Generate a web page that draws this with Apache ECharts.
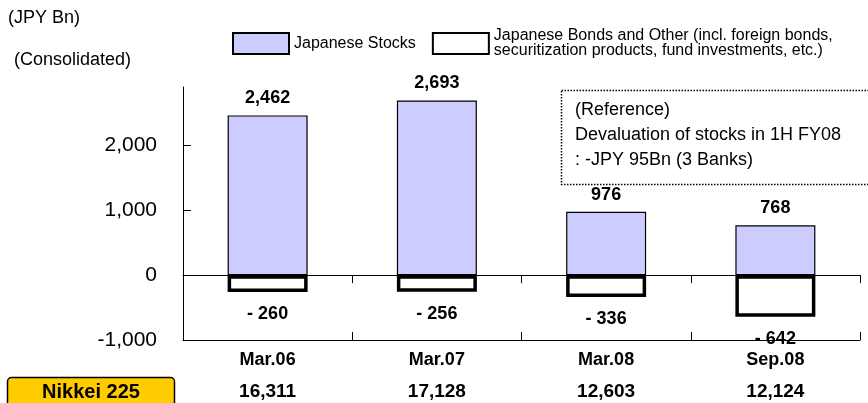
<!DOCTYPE html>
<html>
<head>
<meta charset="utf-8">
<title>Japanese Stocks / Bonds</title>
<script src="https://cdn.jsdelivr.net/npm/echarts@6/dist/echarts.min.js"></script>
<style>
  html, body { margin: 0; padding: 0; background: #fff; }
  #chart { width: 868px; height: 403px; }
</style>
</head>
<body>
<div id="chart"></div>
<script>
// data
const categories = ["Mar.06", "Mar.07", "Mar.08", "Sep.08"];
const stocks = [2462, 2693, 976, 768];
const bonds = [-260, -256, -336, -642];
const nikkei = ["16,311", "17,128", "12,603", "12,124"];
const yTicks = [-1000, 0, 1000, 2000];

const stocksName = "Japanese Stocks";
const bondsName = "Japanese Bonds and Other (incl. foreign bonds, securitization products, fund investments, etc.)";

const font = "'Liberation Sans', Arial, sans-serif";

function init() {
  const chart = echarts.init(document.getElementById("chart"));
  const option = {
    animation: false,
    textStyle: { fontFamily: font, color: "#000" },
    grid: { left: 183, right: 8, top: 87, bottom: 63 },
    legend: {
      left: 232,
      top: 28,
      padding: 0,
      icon: "rect",
      itemWidth: 56,
      itemHeight: 21,
      itemGap: 16,
      selectedMode: false,
      data: [stocksName, bondsName],
      textStyle: { fontSize: 16, lineHeight: 15, color: "#000", fontFamily: font },
      formatter: function (name) {
        return name.replace(", securitization", ",\nsecuritization");
      },
    },
    xAxis: [
      {
        type: "category",
        data: categories,
        axisLine: { onZero: true, lineStyle: { color: "#000", width: 1 } },
        axisTick: { show: true, length: 8, lineStyle: { color: "#000" } },
        axisLabel: { show: false },
      },
      {
        // same axis again, ticks pointing up so they cross the line
        type: "category",
        position: "bottom",
        data: categories,
        axisLine: { onZero: true, lineStyle: { color: "#000", width: 1 } },
        axisTick: { show: true, inside: true, length: 8, lineStyle: { color: "#000" } },
        axisLabel: { show: false },
      },
      {
        // labels under the plot: period + Nikkei 225
        type: "category",
        position: "bottom",
        data: categories,
        axisLine: { show: false, onZero: false },
        axisTick: { show: false },
        axisLabel: {
          margin: 4,
          formatter: function (value, index) {
            return "{c|" + value + "}\n{n|" + nikkei[index] + "}";
          },
          rich: {
            c: { fontSize: 18, fontWeight: "bold", lineHeight: 32, fontFamily: font, color: "#000" },
            n: { fontSize: 19, fontWeight: "bold", lineHeight: 32, fontFamily: font, color: "#000" },
          },
        },
      },
    ],
    yAxis: {
      type: "value",
      min: -1000,
      max: 2900,
      interval: 1000,
      splitLine: { show: false },
      axisLine: { show: true, lineStyle: { color: "#000", width: 1 } },
      axisTick: { show: true, inside: true, length: 8, customValues: yTicks, lineStyle: { color: "#000" } },
      axisLabel: {
        margin: 26,
        fontSize: 21,
        color: "#000",
        customValues: yTicks,
        formatter: function (v) {
          return v.toLocaleString("en-US");
        },
      },
    },
    series: [
      {
        name: stocksName,
        type: "bar",
        barWidth: 80,
        barGap: "-100%",
        data: stocks,
        itemStyle: { color: "#CCCCFF", borderColor: "#000", borderWidth: 1.2 },
        label: {
          show: true,
          position: "top",
          distance: 8,
          fontSize: 18,
          fontWeight: "bold",
          color: "#000",
          formatter: function (p) {
            return p.value.toLocaleString("en-US");
          },
        },
      },
      {
        name: bondsName,
        type: "bar",
        barWidth: 80,
        barGap: "-100%",
        data: bonds,
        itemStyle: { color: "#fff", borderColor: "#000", borderWidth: 3.5 },
        label: {
          show: true,
          position: "bottom",
          distance: 13,
          fontSize: 18,
          fontWeight: "bold",
          color: "#000",
          formatter: function (p) {
            return "- " + Math.abs(p.value);
          },
        },
      },
    ],
    graphic: [
      {
        type: "text",
        left: 8,
        top: 9,
        style: { text: "(JPY Bn)", font: "18px " + font, fill: "#000" },
      },
      {
        type: "text",
        left: 14,
        top: 51,
        style: { text: "(Consolidated)", font: "18px " + font, fill: "#000" },
      },
      {
        type: "rect",
        shape: { x: 561.5, y: 90.5, width: 330, height: 94 },
        style: { fill: "#fff", stroke: "#000", lineWidth: 1.5, lineDash: [1.5, 1.5] },
      },
      {
        type: "text",
        x: 575,
        y: 98,
        style: {
          text: "(Reference)\nDevaluation of stocks in 1H FY08\n: -JPY 95Bn (3 Banks)",
          font: "18px " + font,
          lineHeight: 25,
          fill: "#000",
        },
      },
      {
        type: "rect",
        shape: { x: 7.5, y: 377.5, width: 167, height: 34, r: 4 },
        style: { fill: "#FFCC00", stroke: "#000", lineWidth: 1.5 },
      },
      {
        type: "text",
        x: 91,
        y: 392,
        style: {
          text: "Nikkei 225",
          font: "bold 20px " + font,
          fill: "#000",
          align: "center",
          verticalAlign: "middle",
        },
      },
    ],
  };
  chart.setOption(option);
}

init();
</script>
</body>
</html>
